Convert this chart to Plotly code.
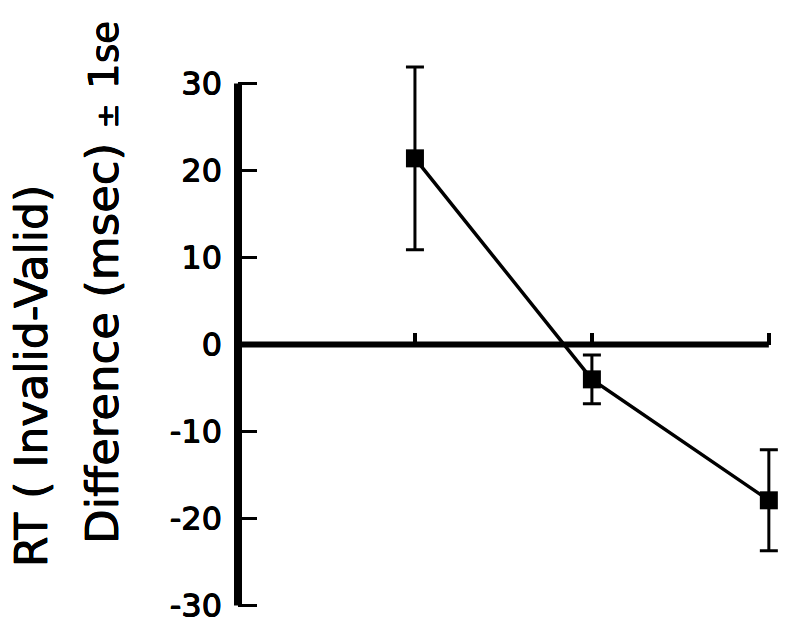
import plotly.graph_objects as go

# Cue conditions along the horizontal axis (unlabelled positions)
conditions = [1, 2, 3]
# Mean RT difference (invalid minus valid), msec
rt_diff = [21.4, -4.0, -17.9]
# Standard error of each mean
rt_se = [10.5, 2.8, 5.8]

y_ticks = [-30, -20, -10, 0, 10, 20, 30]
y_tick_text = ["-30", "-20", "-10", "0", "10", "20", "30"]

Y_RANGE = [-32, 35]
X_RANGE = [0, 3.08]
FONT = "DejaVu Sans"
# slight outline to give the lettering a heavier, demi-bold stroke
HEAVY = ("0.45px 0 0 black, -0.45px 0 0 black, "
         "0 0.45px 0 black, 0 -0.45px 0 black")

fig = go.Figure()

fig.add_trace(go.Scatter(
    x=conditions,
    y=rt_diff,
    mode="lines+markers",
    line=dict(color="black", width=3.5),
    marker=dict(symbol="square", size=18, color="black"),
    error_y=dict(type="data", array=rt_se, symmetric=True,
                 color="black", thickness=3, width=9),
    cliponaxis=False,
    showlegend=False,
))

# Heavy vertical axis line spanning the labelled range
fig.add_shape(type="line", xref="paper", yref="y",
              x0=0, x1=0, y0=min(y_ticks), y1=max(y_ticks),
              line=dict(color="black", width=8), layer="above")
# Heavy zero reference line out to the last condition
fig.add_shape(type="line", xref="x", yref="y",
              x0=0, x1=max(conditions), y0=0, y1=0,
              line=dict(color="black", width=6), layer="below")

zero_pos = (0 - Y_RANGE[0]) / (Y_RANGE[1] - Y_RANGE[0])

fig.update_layout(
    width=786, height=634,
    margin=dict(l=238, r=3, t=40, b=11),
    paper_bgcolor="white",
    plot_bgcolor="white",
    font=dict(family=FONT, color="black"),
    xaxis=dict(
        range=X_RANGE,
        anchor="free", position=zero_pos,
        tickvals=conditions, showticklabels=False,
        ticks="inside", ticklen=12, tickwidth=4, tickcolor="black",
        showline=False, showgrid=False, zeroline=False,
    ),
    yaxis=dict(
        range=Y_RANGE,
        tickvals=y_ticks, ticktext=y_tick_text,
        ticks="inside", ticklen=19, tickwidth=3, tickcolor="black",
        ticklabelstandoff=15,
        tickfont=dict(size=32, family=FONT, color="black", shadow=HEAVY),
        showline=False, showgrid=False, zeroline=False,
    ),
)

plot_top, plot_h = 40, 634 - 40 - 11


def paper_y(py):
    return (plot_top + plot_h - py) / plot_h


fig.add_annotation(
    text="RT ( Invalid-Valid)",
    xref="paper", yref="paper", x=0, y=paper_y(376),
    xshift=31 - 238, xanchor="center", yanchor="middle",
    textangle=-90, showarrow=False,
    font=dict(size=44, family=FONT, color="black", shadow=HEAVY),
)
fig.add_annotation(
    text='Difference (msec) <span style="font-size:30px">±</span> '
         '<span style="font-size:41px">1</span>'
         '<span style="font-size:37px">se</span>',
    xref="paper", yref="paper", x=0, y=paper_y(283),
    xshift=102 - 238, xanchor="center", yanchor="middle",
    textangle=-90, showarrow=False,
    font=dict(size=45, family=FONT, color="black", shadow=HEAVY),
)

fig.write_html("out.html")
